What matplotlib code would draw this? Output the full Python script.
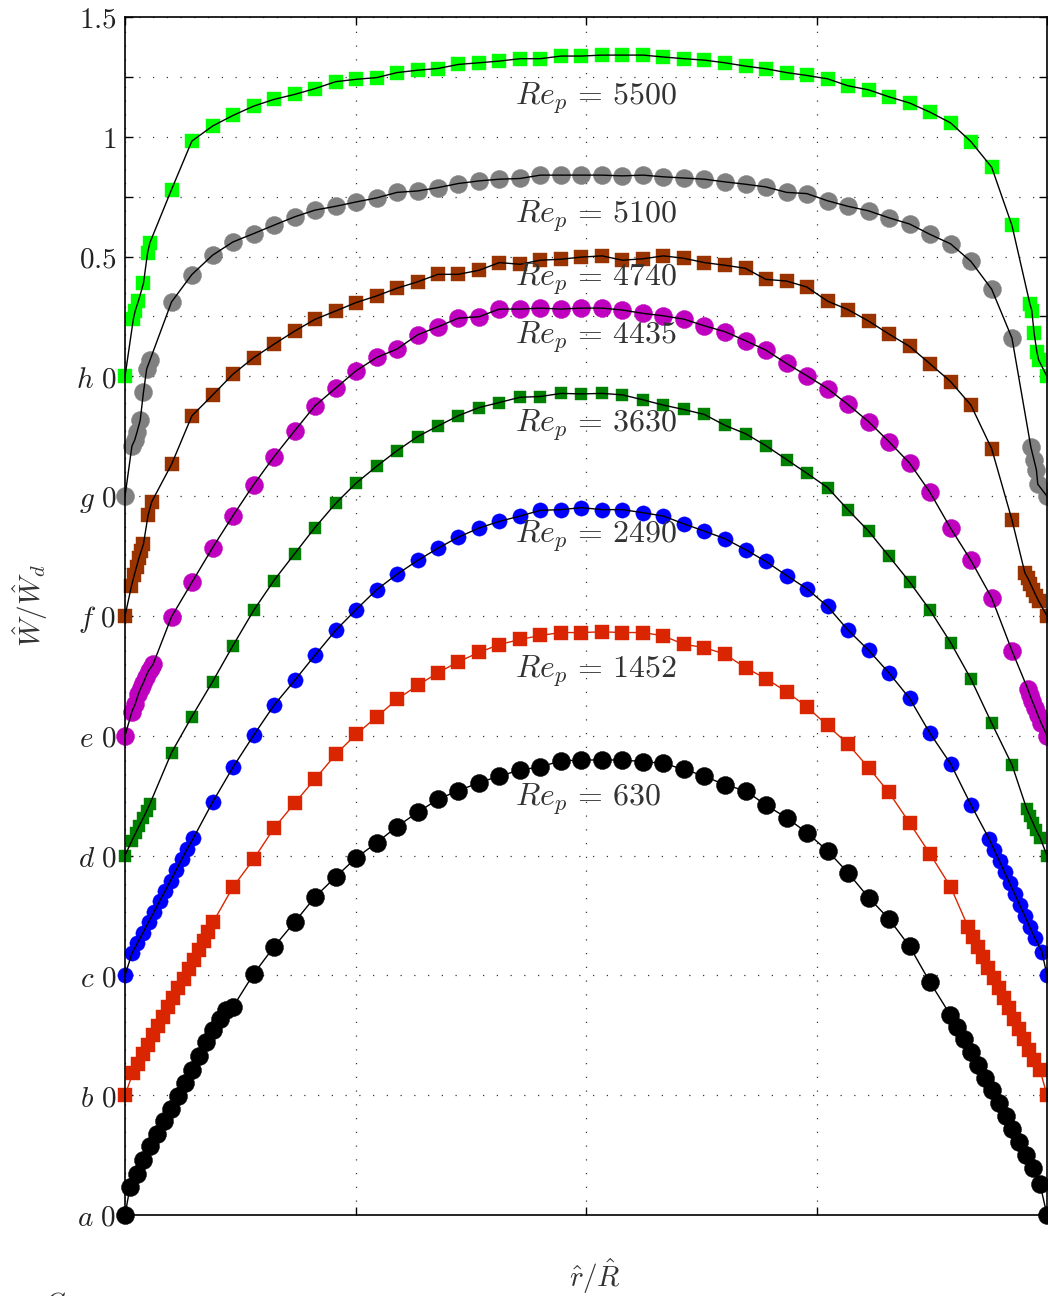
import matplotlib
matplotlib.use('Agg')
import matplotlib.pyplot as plt

plt.rcParams['mathtext.fontset'] = 'cm'

# Pipe Reynolds numbers, bottom profile to top profile
re_p = [630, 1452, 2490, 3630, 4435, 4740, 5100, 5500]
tick_letters = ['a', 'b', 'c', 'd', 'e', 'f', 'g', 'h']

# radial stations of the coarse traverse (shared by every profile)
r_grid = [-0.899, -0.855, -0.810, -0.766, -0.721, -0.677, -0.632, -0.588,
          -0.543, -0.499, -0.454, -0.410, -0.365, -0.321, -0.277, -0.232,
          -0.188, -0.143, -0.099, -0.054, -0.010, 0.035, 0.079, 0.124,
          0.168, 0.212, 0.257, 0.301, 0.346, 0.390, 0.435, 0.479,
          0.524, 0.568, 0.613, 0.657, 0.702, 0.746, 0.791, 0.835,
          0.880, 0.924]

# --- Re_p = 630 ---
r_630_in = [-0.989, -0.975, -0.960, -0.945, -0.930, -0.915, -0.900, -0.885,
            -0.870, -0.855, -0.840, -0.825, -0.810, -0.795, -0.780]
w_630_in = [0.117, 0.173, 0.230, 0.286, 0.340, 0.392, 0.442, 0.495,
            0.551, 0.607, 0.664, 0.720, 0.772, 0.820, 0.856]
w_630_core = [0.868, 1.006, 1.119, 1.223, 1.327, 1.411, 1.490, 1.554, 1.621,
              1.681, 1.735, 1.771, 1.804, 1.832, 1.857, 1.871, 1.895, 1.899,
              1.899, 1.899, 1.892, 1.885, 1.860, 1.832, 1.795, 1.771, 1.711,
              1.658, 1.596, 1.520, 1.429, 1.325, 1.236, 1.121, 0.972]
r_630_out = [0.790, 0.805, 0.820, 0.835, 0.850, 0.865, 0.880, 0.895,
             0.910, 0.925, 0.940, 0.955, 0.970, 0.985]
w_630_out = [0.836, 0.785, 0.733, 0.680, 0.627, 0.573, 0.520, 0.467,
             0.413, 0.360, 0.306, 0.252, 0.196, 0.128]

# --- Re_p = 1452 ---
r_1452_in = [-0.983, -0.972, -0.961, -0.950, -0.939, -0.928, -0.917, -0.906,
             -0.895, -0.884, -0.873, -0.862, -0.851, -0.840, -0.829, -0.819,
             -0.809]
w_1452_in = [0.092, 0.131, 0.171, 0.210, 0.250, 0.289, 0.328, 0.368,
             0.407, 0.447, 0.486, 0.525, 0.565, 0.604, 0.643, 0.683, 0.722]
w_1452_core = [0.868, 0.985, 1.114, 1.219, 1.319, 1.422, 1.506, 1.579, 1.652,
               1.711, 1.763, 1.809, 1.848, 1.881, 1.902, 1.919, 1.931, 1.931,
               1.934, 1.931, 1.931, 1.917, 1.882, 1.868, 1.841, 1.784, 1.739,
               1.684, 1.621, 1.543, 1.466, 1.367, 1.264, 1.136, 1.008, 0.869]
r_1452_out = [0.829, 0.840, 0.851, 0.862, 0.873, 0.884, 0.895, 0.906,
              0.917, 0.928, 0.939, 0.950, 0.961, 0.972, 0.985]
w_1452_out = [0.702, 0.660, 0.618, 0.575, 0.532, 0.490, 0.447, 0.404,
              0.362, 0.318, 0.276, 0.233, 0.190, 0.148, 0.104]

# --- Re_p = 2490 ---
r_2490_in = [-0.985, -0.973, -0.961, -0.949, -0.937, -0.925, -0.913, -0.901,
             -0.889, -0.877, -0.865, -0.852]
w_2490_in = [0.092, 0.135, 0.178, 0.222, 0.265, 0.310, 0.352, 0.396,
             0.440, 0.484, 0.528, 0.572]
w_2490_core = [0.723, 0.868, 1.002, 1.127, 1.231, 1.336, 1.440, 1.526, 1.610,
               1.674, 1.732, 1.783, 1.829, 1.867, 1.895, 1.917, 1.941, 1.944,
               1.952, 1.944, 1.944, 1.931, 1.917, 1.885, 1.854, 1.823, 1.777,
               1.728, 1.669, 1.614, 1.540, 1.442, 1.357, 1.263, 1.156, 1.011,
               0.883, 0.712]
r_2490_out = [0.875, 0.886, 0.897, 0.908, 0.919, 0.930, 0.941, 0.952,
              0.963, 0.974, 0.989]
w_2490_out = [0.568, 0.522, 0.476, 0.430, 0.385, 0.340, 0.293, 0.248,
              0.200, 0.155, 0.099]

# --- Re_p = 3630 ---
r_3630_in = [-0.985, -0.977, -0.969, -0.961, -0.953, -0.946]
w_3630_in = [0.063, 0.094, 0.125, 0.155, 0.186, 0.216]
w_3630_core = [0.430, 0.580, 0.726, 0.876, 1.023, 1.148, 1.260, 1.369, 1.470,
               1.554, 1.625, 1.690, 1.749, 1.793, 1.836, 1.870, 1.891, 1.913,
               1.916, 1.929, 1.927, 1.929, 1.923, 1.902, 1.880, 1.862, 1.841,
               1.796, 1.761, 1.711, 1.653, 1.596, 1.536, 1.444, 1.354, 1.250,
               1.142, 1.025, 0.889, 0.737, 0.553, 0.379]
r_3630_out = [0.956, 0.963, 0.970, 0.977, 0.985]
w_3630_out = [0.195, 0.165, 0.135, 0.105, 0.075]

# --- Re_p = 4435 ---
r_4435_in = [-0.985, -0.978, -0.971, -0.966, -0.960, -0.955, -0.949, -0.944,
             -0.939]
w_4435_in = [0.101, 0.132, 0.174, 0.198, 0.222, 0.246, 0.271, 0.285, 0.299]
w_4435_core = [0.497, 0.640, 0.785, 0.918, 1.048, 1.164, 1.273, 1.377, 1.451,
               1.523, 1.579, 1.614, 1.674, 1.707, 1.743, 1.749, 1.781, 1.781,
               1.785, 1.781, 1.785, 1.785, 1.777, 1.763, 1.753, 1.739, 1.711,
               1.687, 1.649, 1.610, 1.554, 1.503, 1.449, 1.383, 1.311, 1.228,
               1.138, 1.017, 0.866, 0.732, 0.576, 0.355]
r_4435_out = [0.958, 0.963, 0.968, 0.974, 0.980, 0.987]
w_4435_out = [0.197, 0.170, 0.145, 0.118, 0.088, 0.055]

# --- Re_p = 4740 ---
r_4740_in = [-0.986, -0.980, -0.975, -0.970, -0.965, -0.960, -0.950, -0.942]
w_4740_in = [0.125, 0.170, 0.205, 0.240, 0.270, 0.300, 0.420, 0.477]
w_4740_core = [0.633, 0.835, 0.922, 1.009, 1.078, 1.134, 1.189, 1.238, 1.273,
               1.308, 1.336, 1.368, 1.395, 1.426, 1.426, 1.443, 1.475, 1.468,
               1.485, 1.489, 1.498, 1.503, 1.485, 1.491, 1.503, 1.493, 1.475,
               1.464, 1.451, 1.405, 1.398, 1.373, 1.314, 1.279, 1.231, 1.177,
               1.125, 1.053, 0.978, 0.880, 0.698, 0.401]
r_4740_out = [0.952, 0.958, 0.964, 0.970, 0.976, 0.982]
w_4740_out = [0.180, 0.160, 0.135, 0.110, 0.085, 0.062]

# --- Re_p = 5100 ---
r_5100_in = [-0.985, -0.979, -0.974, -0.967, -0.960, -0.953, -0.946]
w_5100_in = [0.209, 0.234, 0.267, 0.317, 0.433, 0.531, 0.567]
w_5100_core = [0.811, 0.925, 1.006, 1.061, 1.096, 1.131, 1.166, 1.194, 1.210,
               1.228, 1.245, 1.268, 1.274, 1.288, 1.305, 1.316, 1.323, 1.326,
               1.340, 1.340, 1.340, 1.340, 1.337, 1.340, 1.333, 1.328, 1.323,
               1.312, 1.302, 1.291, 1.268, 1.263, 1.233, 1.210, 1.191, 1.162,
               1.136, 1.093, 1.053, 0.980, 0.864, 0.660]
r_5100_out = [0.965, 0.972, 0.977, 0.980]
w_5100_out = [0.205, 0.150, 0.110, 0.050]

# --- Re_p = 5500 ---
r_5500_in = [-0.982, -0.978, -0.971, -0.960, -0.951, -0.946]
w_5500_in = [0.238, 0.273, 0.314, 0.388, 0.516, 0.558]
w_5500_core = [0.780, 0.982, 1.045, 1.089, 1.128, 1.156, 1.177, 1.201, 1.230,
               1.240, 1.247, 1.268, 1.278, 1.285, 1.302, 1.309, 1.316, 1.326,
               1.326, 1.337, 1.337, 1.341, 1.341, 1.341, 1.333, 1.326, 1.320,
               1.309, 1.295, 1.284, 1.268, 1.256, 1.242, 1.213, 1.196, 1.167,
               1.141, 1.103, 1.058, 0.980, 0.873, 0.630]
r_5500_out = [0.963, 0.967, 0.972, 0.978, 0.982]
w_5500_out = [0.302, 0.275, 0.181, 0.103, 0.068]

# first coarse-traverse station used by each profile (index into r_grid)
grid_start = [3, 3, 2, 0, 0, 0, 0, 0]

near_wall_in = [(r_630_in, w_630_in), (r_1452_in, w_1452_in),
                (r_2490_in, w_2490_in), (r_3630_in, w_3630_in),
                (r_4435_in, w_4435_in), (r_4740_in, w_4740_in),
                (r_5100_in, w_5100_in), (r_5500_in, w_5500_in)]
core = [w_630_core, w_1452_core, w_2490_core, w_3630_core,
        w_4435_core, w_4740_core, w_5100_core, w_5500_core]
near_wall_out = [(r_630_out, w_630_out), (r_1452_out, w_1452_out),
                 (r_2490_out, w_2490_out), (r_3630_out, w_3630_out),
                 (r_4435_out, w_4435_out), (r_4740_out, w_4740_out),
                 (r_5100_out, w_5100_out), (r_5500_out, w_5500_out)]

# styling / placement
offsets = [-3.5, -3.0, -2.5, -2.0, -1.5, -1.0, -0.5, 0.0]
colors = ['#000000', '#d92600', '#0000ff', '#008000',
          '#bf00bf', '#993300', '#808080', '#00ff00']
markers = ['o', 's', 'o', 's', 'o', 's', 'o', 's']
msizes = [13, 9.4, 11, 9.0, 13, 9.4, 13, 9.4]
line_colors = ['k', '#d92600', 'k', 'k', 'k', 'k', 'k', 'k']
label_y = [-1.793, -1.255, -0.695, -0.232, 0.139, 0.381, 0.644, 1.133]


def assemble(i):
    """Wall point + near-wall cluster + coarse traverse + cluster + wall."""
    r_in, w_in = near_wall_in[i]
    r_out, w_out = near_wall_out[i]
    s = grid_start[i]
    r = [-1.0] + r_in + r_grid[s:s + len(core[i])] + r_out + [1.0]
    w = [0.0] + w_in + core[i] + w_out + [0.0]
    return r, w


fig = plt.figure(figsize=(10.48, 12.96), dpi=100)
ax = fig.add_axes([125 / 1048, 1 - 1215 / 1296, 922 / 1048, 1198 / 1296])

for i in range(len(re_p)):
    r, w = assemble(i)
    y = [v + offsets[i] for v in w]
    ax.plot(r, y, linestyle='none', marker=markers[i], ms=msizes[i],
            color=colors[i], mec=colors[i], mew=0.3, zorder=2, clip_on=False)
    ax.plot(r, y, '-', color=line_colors[i], lw=1.0, zorder=3)
    ax.text(-0.154, label_y[i], r'$Re_p\,=\,%d$' % re_p[i], fontsize=23,
            color='#333333', ha='left', va='baseline', zorder=4)

ax.set_xlim(-1, 1)
ax.set_ylim(-3.5, 1.5)

yt = offsets + [0.25, 0.5, 0.75, 1.0, 1.25, 1.5]
ylabels = [r'$%s\ 0$' % c for c in tick_letters] + ['', r'$0.5$', '', r'$1$', '', r'$1.5$']
ax.set_yticks(yt)
ax.set_yticklabels(ylabels)
ax.set_xticks([-1, -0.5, 0, 0.5, 1])
ax.set_xticklabels([])

ax.tick_params(direction='in', length=6, width=1, top=True, right=True,
               labelsize=21, labelcolor='#222222', pad=6)
ax.grid(True, color='#3a3a3a', linestyle=(0, (1, 10)), linewidth=0.9)
for sp in ax.spines.values():
    sp.set_linewidth(1.2)
    sp.set_zorder(5)

fig.text(30 / 1048, 1 - 605 / 1296, r'$\hat{W}/\hat{W}_d$', rotation=90,
         fontsize=21, color='#333333', ha='center', va='center')
fig.text(595 / 1048, 1 - 1276 / 1296, r'$\hat{r}/\hat{R}$',
         fontsize=21, color='#333333', ha='center', va='center')
fig.text(45 / 1048, 1 - 1291 / 1296, r'$C_\lambda$', fontsize=18,
         color='#333333', ha='left', va='top')

fig.savefig('out.png', dpi=100, facecolor='white')
